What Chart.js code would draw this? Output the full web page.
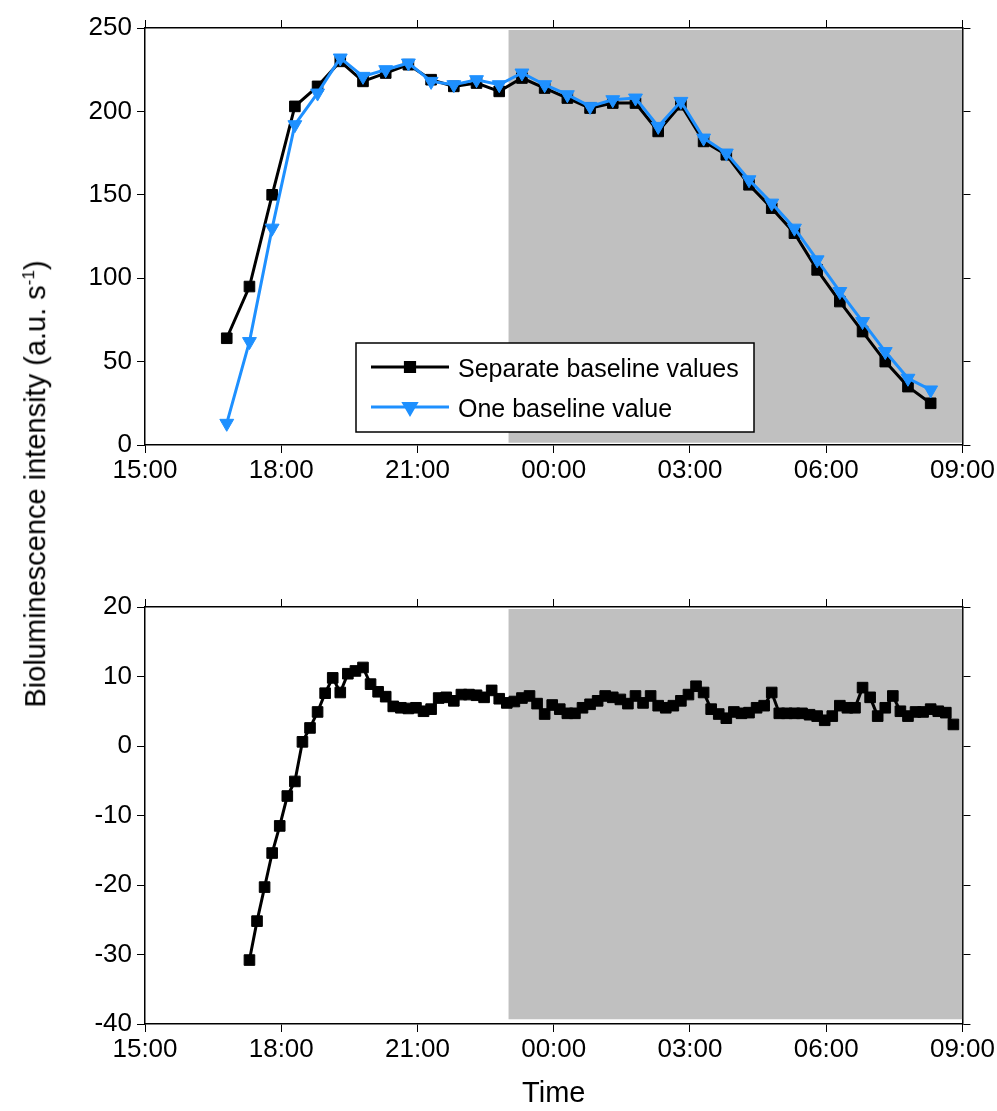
<!DOCTYPE html>
<html>
<head>
<meta charset="utf-8">
<script src="https://cdn.jsdelivr.net/npm/chart.js@4.4.0/dist/chart.umd.min.js"></script>
<style>
    body { margin: 0; background: #fff; }
    #wrap { position: relative; width: 997px; height: 1111px; }
    canvas { position: absolute; left: 0; }
    #chartTop { top: 0; }
    #chartBottom { top: 560px; }
    #ytitle {
        position: absolute; left: 35px; top: 484px;
        transform: translate(-50%, -50%) rotate(-90deg);
        font: 29px "Liberation Sans", Arial, sans-serif;
        white-space: nowrap; color: #000; line-height: 1;
    }
    #ytitle sup { font-size: 17px; }
</style>
</head>
<body>
<div id="wrap">
    <canvas id="chartTop" width="997" height="500"></canvas>
    <canvas id="chartBottom" width="997" height="551"></canvas>
    <div id="ytitle">Bioluminescence intensity (a.u. s<sup>-1</sup>)</div>
</div>
<script>
// top panel, every 30 min
const topTimes = ['16:48', '17:18', '17:48', '18:18', '18:48', '19:18', '19:48', '20:18',
    '20:48', '21:18', '21:48', '22:18', '22:48', '23:18', '23:48', '00:18',
    '00:48', '01:18', '01:48', '02:18', '02:48', '03:18', '03:48', '04:18',
    '04:48', '05:18', '05:48', '06:18', '06:48', '07:18', '07:48', '08:18'];
const separateValues = [64, 95, 150, 203, 215, 230, 218, 223, 228, 219, 215, 217, 212, 220, 214, 208,
    202, 205, 205, 188, 204, 182, 174, 156, 142, 127, 105, 86, 68, 50, 35, 25];
const oneValues = [13, 62, 130, 192, 211, 232, 221, 225, 229, 218, 216, 219, 216, 223, 216, 210,
    203, 207, 208, 191, 206, 184, 175, 159, 145, 130, 111, 92, 74, 56, 40, 33];

// bottom panel, every 10 min
const bottomTimes = ['17:18', '17:28', '17:38', '17:48', '17:58',
    '18:08', '18:18', '18:28', '18:38', '18:48', '18:58',
    '19:08', '19:18', '19:28', '19:38', '19:48', '19:58',
    '20:08', '20:18', '20:28', '20:38', '20:48', '20:58',
    '21:08', '21:18', '21:28', '21:38', '21:48', '21:58',
    '22:08', '22:18', '22:28', '22:38', '22:48', '22:58',
    '23:08', '23:18', '23:28', '23:38', '23:48', '23:58',
    '00:08', '00:18', '00:28', '00:38', '00:48', '00:58',
    '01:08', '01:18', '01:28', '01:38', '01:48', '01:58',
    '02:08', '02:18', '02:28', '02:38', '02:48', '02:58',
    '03:08', '03:18', '03:28', '03:38', '03:48', '03:58',
    '04:08', '04:18', '04:28', '04:38', '04:48', '04:58',
    '05:08', '05:18', '05:28', '05:38', '05:48', '05:58',
    '06:08', '06:18', '06:28', '06:38', '06:48', '06:58',
    '07:08', '07:18', '07:28', '07:38', '07:48', '07:58',
    '08:08', '08:18', '08:28', '08:38', '08:48'];
const diffValues = [-30.8, -25.2, -20.3, -15.4, -11.5,
    -7.2, -5.1, 0.6, 2.6, 4.9, 7.6,
    9.8, 7.7, 10.4, 10.8, 11.3, 8.9,
    7.8, 7.1, 5.7, 5.5, 5.4, 5.5,
    5.0, 5.3, 6.9, 7.0, 6.5, 7.4,
    7.4, 7.3, 7.0, 8.0, 6.8, 6.2,
    6.4, 6.9, 7.2, 6.1, 4.6, 5.9,
    5.3, 4.7, 4.7, 5.5, 6.0, 6.5,
    7.2, 7.0, 6.7, 6.1, 7.2, 6.2,
    7.2, 5.8, 5.5, 5.8, 6.5, 7.4,
    8.6, 7.7, 5.3, 4.6, 4.0, 4.9,
    4.7, 4.8, 5.5, 5.8, 7.7, 4.7,
    4.7, 4.7, 4.7, 4.5, 4.3, 3.7,
    4.3, 5.8, 5.5, 5.5, 8.4, 7.0,
    4.3, 5.5, 7.2, 5.0, 4.3, 4.9,
    4.9, 5.3, 5.0, 4.8, 3.1];

// dark period (grey box)
const shadeTimes = ['23:00', '09:00'];
const topShade = [1.4, 248.8];
const bottomShade = [-39.3, 19.7];

const FONT = '"Liberation Sans", Arial, sans-serif';
const BLUE = '#1E90FF';

// hours since 15:00
function toHours(t) {
    const [h, m] = t.split(':').map(Number);
    return (h - 15 + 24) % 24 + m / 60;
}

function clockLabel(v) {
    return String((15 + v) % 24).padStart(2, '0') + ':00';
}

function points(times, values) {
    return times.map((t, i) => ({ x: toHours(t), y: values[i] }));
}

function shadeDataset(range) {
    return {
        data: shadeTimes.map(t => ({ x: toHours(t), y: range[1] })),
        fill: { value: range[0] },
        backgroundColor: '#C0C0C0',
        borderWidth: 0,
        pointRadius: 0,
        order: 3
    };
}

function axis(position, opts) {
    const horizontal = position === 'top' || position === 'bottom';
    const showLabels = position === 'bottom' || position === 'left';
    return {
        type: 'linear',
        position: position,
        min: opts.min,
        max: opts.max,
        ticks: {
            display: showLabels,
            stepSize: opts.step,
            autoSkip: false,
            maxRotation: 0,
            color: '#000',
            padding: horizontal ? 2 : 5,
            font: { family: FONT, size: 26 },
            callback: horizontal ? clockLabel : v => String(v)
        },
        grid: { drawOnChartArea: false, drawTicks: true, tickLength: 8, color: '#000', lineWidth: 1 },
        border: { display: true, color: '#000', width: 1.5 },
        title: opts.title || { display: false },
        afterFit: s => { if (horizontal) s.height = opts.size; else s.width = opts.size; }
    };
}

const legendPlugin = {
    id: 'boxLegend',
    afterDatasetsDraw(chart) {
        const ctx = chart.ctx;
        ctx.save();
        ctx.fillStyle = '#fff';
        ctx.fillRect(356, 343, 398, 89);
        ctx.strokeStyle = '#000';
        ctx.lineWidth = 1.5;
        ctx.strokeRect(356, 343, 398, 89);
        [0, 1].forEach((idx, row) => {
            const ds = chart.data.datasets[idx];
            const y = 367 + row * 40;
            ctx.strokeStyle = ds.borderColor;
            ctx.lineWidth = 3;
            ctx.beginPath();
            ctx.moveTo(371, y);
            ctx.lineTo(449, y);
            ctx.stroke();
            ctx.fillStyle = ds.pointBackgroundColor;
            ctx.strokeStyle = ds.pointBorderColor;
            Chart.helpers.drawPoint(ctx, {
                pointStyle: ds.pointStyle, rotation: ds.pointRotation || 0,
                radius: ds.pointRadius - 1, borderWidth: 1
            }, 410, y);
            ctx.fillStyle = '#000';
            ctx.font = '25px ' + FONT;
            ctx.textBaseline = 'alphabetic';
            ctx.fillText(ds.label, 458, y + 9.5);
        });
        ctx.restore();
    }
};

function makeChart(id, datasets, yOpts, xTop, xBottom, xTitle, plugins) {
    new Chart(document.getElementById(id), {
        type: 'line',
        data: { datasets: datasets },
        options: {
            responsive: false,
            animation: false,
            layout: { padding: 0 },
            plugins: { legend: { display: false }, tooltip: { enabled: false } },
            scales: {
                x: axis('bottom', { min: 0, max: 18, step: 3, size: xBottom, title: xTitle }),
                x2: axis('top', { min: 0, max: 18, step: 3, size: xTop }),
                y: axis('left', { min: yOpts.min, max: yOpts.max, step: yOpts.step, size: 145 }),
                y2: axis('right', { min: yOpts.min, max: yOpts.max, step: yOpts.step, size: 34 })
            }
        },
        plugins: plugins
    });
}

document.addEventListener('DOMContentLoaded', function() {
    makeChart('chartTop', [
        {
            label: 'Separate baseline values',
            data: points(topTimes, separateValues),
            borderColor: '#000', borderWidth: 3,
            pointStyle: 'rect', pointRadius: 7.5,
            pointBackgroundColor: '#000', pointBorderColor: '#000', pointBorderWidth: 1,
            order: 2
        },
        {
            label: 'One baseline value',
            data: points(topTimes, oneValues),
            borderColor: BLUE, borderWidth: 3,
            pointStyle: 'triangle', pointRotation: 180, pointRadius: 8,
            pointBackgroundColor: BLUE, pointBorderColor: BLUE, pointBorderWidth: 1,
            order: 1
        },
        shadeDataset(topShade)
    ], { min: 0, max: 250, step: 50 }, 28, 55, null, [legendPlugin]);

    makeChart('chartBottom', [
        {
            label: 'Difference',
            data: points(bottomTimes, diffValues),
            borderColor: '#000', borderWidth: 3,
            pointStyle: 'rect', pointRadius: 7.5,
            pointBackgroundColor: '#000', pointBorderColor: '#000', pointBorderWidth: 1,
            order: 2
        },
        shadeDataset(bottomShade)
    ], { min: -40, max: 20, step: 10 }, 47, 87,
        { display: true, text: 'Time', color: '#000', font: { family: FONT, size: 29 }, padding: { top: 0, bottom: 0 } },
        []);
});
</script>
</body>
</html>
